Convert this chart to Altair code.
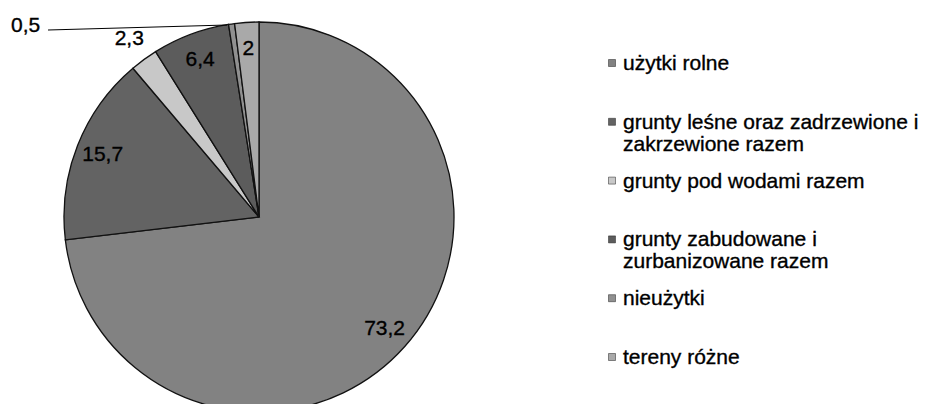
import altair as alt
import pandas as pd

categories = [
    "użytki rolne",
    "grunty leśne oraz zadrzewione i zakrzewione razem",
    "grunty pod wodami razem",
    "grunty zabudowane i zurbanizowane razem",
    "nieużytki",
    "tereny różne",
]
values = [73.2, 15.7, 2.3, 6.4, 0.5, 2.0]
legend_labels = [
    "użytki rolne",
    "grunty leśne oraz zadrzewione i\nzakrzewione razem",
    "grunty pod wodami razem",
    "grunty zabudowane i\nzurbanizowane razem",
    "nieużytki",
    "tereny różne",
]
grays = ["#828282", "#636363", "#c8c8c8", "#5c5c5c", "#909090", "#a9a9a9"]

FONT = "Liberation Sans"

df = pd.DataFrame({
    "kategoria": categories,
    "wartosc": values,
    "idx": list(range(len(categories))),
    "legenda": legend_labels,
})

base = alt.Chart(df).transform_calculate(
    etykieta="replace(toString(datum.wartosc), '.', ',')"
)

color = alt.Color("kategoria:N", scale=alt.Scale(domain=categories, range=grays), legend=None)
theta = alt.Theta("wartosc:Q", stack=True)
order = alt.Order("idx:Q")
cx = alt.value(251)
cy = alt.value(209)

text_style = dict(fontSize=21, font=FONT, color="black", stroke="black", strokeWidth=0.35)

pie = base.mark_arc(radius=195, stroke="#111111", strokeWidth=1.3).encode(
    theta=theta, color=color, order=order, x=cx, y=cy
)

inner = base.transform_calculate(
    t="(datum.idx != 2 && datum.idx != 4) ? datum.etykieta : ''"
).mark_text(radius=168, **text_style).encode(
    theta=theta, order=order, text="t:N", x=cx, y=cy
)

outer = base.transform_calculate(
    t="datum.idx == 2 ? datum.etykieta : ''"
).mark_text(radius=220, **text_style).encode(
    theta=theta, order=order, text="t:N", x=cx, y=cy
)

tiny = base.transform_calculate(
    t="datum.idx == 4 ? datum.etykieta : ''"
).mark_text(radius=195, dx=-206, dy=2, **text_style).encode(
    theta=theta, order=order, text="t:N", x=cx, y=cy
)

leader = alt.Chart(pd.DataFrame({"a": [0]})).mark_rule(color="black", strokeWidth=1.2).encode(
    x=alt.value(40), x2=alt.value(219), y=alt.value(22), y2=alt.value(17)
)

ypos = alt.Y("kategoria:N", sort=categories, scale=alt.Scale(range=[55, 349], padding=0), axis=None)

leg_sym = base.mark_square(size=49, opacity=1, stroke="#222", strokeWidth=0.5).encode(
    x=alt.value(604), y=ypos, color=color
)
leg_txt = base.mark_text(
    align="left", baseline="alphabetic", dy=7, lineBreak="\n", lineHeight=22, **text_style
).encode(x=alt.value(615), y=ypos, text="legenda:N")

chart = alt.layer(pie, inner, outer, tiny, leader, leg_sym, leg_txt).properties(
    width=911, height=396, padding=0, autosize="none", background="white"
).configure_view(stroke=None)

chart.save("out.html", embed_options={"renderer": "svg", "actions": False})
